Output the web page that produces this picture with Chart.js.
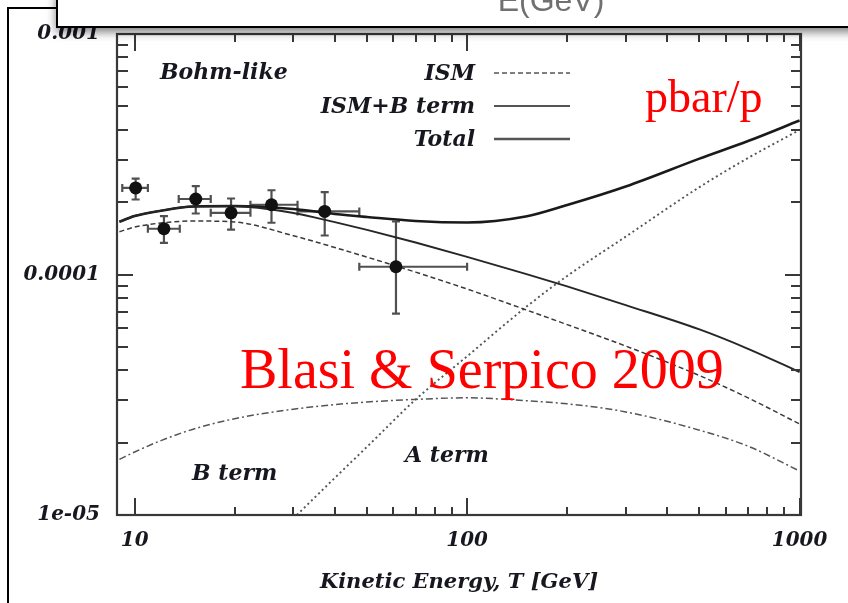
<!DOCTYPE html>
<html>
<head>
<meta charset="utf-8">
<script src="https://cdn.jsdelivr.net/npm/chart.js@4"></script>
<style>
  html, body { margin: 0; padding: 0; background: #fff; overflow: hidden; }
  canvas { display: block; }
</style>
</head>
<body>
<canvas id="c" width="848" height="603"></canvas>
<script>
// Kinetic energy grid (GeV) for the model curves
const energies = [9, 10, 12, 15, 20, 30, 40, 50, 70, 100, 150, 200, 300, 500, 700, 1000];

// pbar/p ratio of each model component on the energy grid
const totalRatio = [1.658e-4, 1.751e-4, 1.842e-4, 1.918e-4, 1.927e-4, 1.872e-4, 1.785e-4, 1.734e-4,
                    1.669e-4, 1.645e-4, 1.742e-4, 1.945e-4, 2.322e-4, 3.033e-4, 3.589e-4, 4.368e-4];
const ismBRatio = [1.658e-4, 1.751e-4, 1.842e-4, 1.918e-4, 1.922e-4, 1.802e-4, 1.65e-4, 1.532e-4,
                   1.358e-4, 1.184e-4, 1.006e-4, 8.92e-5, 7.46e-5, 5.91e-5, 4.91e-5, 3.93e-5];
const ismRatio = [1.507e-4, 1.576e-4, 1.637e-4, 1.669e-4, 1.653e-4, 1.45e-4, 1.295e-4, 1.181e-4,
                  1.023e-4, 8.7e-5, 7.14e-5, 6.19e-5, 5.04e-5, 3.8e-5, 3.07e-5, 2.39e-5];
const bTermRatio = [1.704e-5, 1.828e-5, 2.039e-5, 2.274e-5, 2.514e-5, 2.754e-5, 2.877e-5, 2.95e-5,
                    3.024e-5, 3.071e-5, 2.987e-5, 2.9e-5, 2.683e-5, 2.252e-5, 1.932e-5, 1.524e-5];
const aTermEnergies = [30, 40, 50, 70, 100, 150, 200, 300, 500, 700, 1000];
const aTermRatio = [9.67e-6, 1.426e-5, 1.921e-5, 3.02e-5, 4.57e-5, 7.3e-5, 9.86e-5, 1.437e-4,
                    2.309e-4, 3.05e-4, 3.99e-4];

// Measured pbar/p points with their energy bins and uncertainties
const pamelaE = [10.07, 12.25, 15.27, 19.5, 25.8, 37.3, 61.1];
const pamelaELow = [9.18, 10.96, 13.57, 16.94, 22.3, 30.9, 47.4];
const pamelaEHigh = [10.96, 13.67, 16.94, 22.3, 30.9, 47.4, 100];
const pamelaRatio = [2.29e-4, 1.55e-4, 2.06e-4, 1.805e-4, 1.95e-4, 1.83e-4, 1.077e-4];
const pamelaRatioLow = [2.05e-4, 1.354e-4, 1.793e-4, 1.538e-4, 1.641e-4, 1.453e-4, 6.87e-5];
const pamelaRatioHigh = [2.506e-4, 1.748e-4, 2.33e-4, 2.07e-4, 2.24e-4, 2.2e-4, 1.661e-4];

// Axis ticks and labels
const xTickValues = [10, 20, 30, 40, 50, 60, 70, 80, 90, 100, 200, 300, 400, 500, 600, 700, 800, 900, 1000];
const xMajorValues = [10, 100, 1000];
const xTickLabels = ['10', '100', '1000'];
const yTickValues = [1e-5, 2e-5, 3e-5, 4e-5, 5e-5, 6e-5, 7e-5, 8e-5, 9e-5,
                     1e-4, 2e-4, 3e-4, 4e-4, 5e-4, 6e-4, 7e-4, 8e-4, 9e-4, 1e-3];
const yMajorValues = [1e-5, 1e-4, 1e-3];
const yTickLabels = ['1e-05', '0.0001', '0.001'];

const seriesNames = ['ISM', 'ISM+B term', 'Total'];

const serifBI = '"DejaVu Serif", serif';
const inkColor = '#17171f';
const frameColor = '#383838';

const pairs = (xs, ys) => xs.map((x, i) => ({ x, y: ys[i] }));
const majorIndex = (v, majors) => majors.findIndex(m => Math.abs(Math.log10(v) - Math.log10(m)) < 1e-6);

// Error bars drawn beneath the data points
const errorBars = {
  id: 'errorBars',
  beforeDatasetsDraw(chart) {
    const { ctx, scales: { x, y } } = chart;
    ctx.save();
    ctx.strokeStyle = '#505050';
    ctx.lineWidth = 2.2;
    const cap = 4;
    pamelaE.forEach((e, i) => {
      const px = x.getPixelForValue(e);
      const py = y.getPixelForValue(pamelaRatio[i]);
      const x0 = x.getPixelForValue(pamelaELow[i]);
      const x1 = x.getPixelForValue(pamelaEHigh[i]);
      const y0 = y.getPixelForValue(pamelaRatioLow[i]);
      const y1 = y.getPixelForValue(pamelaRatioHigh[i]);
      ctx.beginPath();
      ctx.moveTo(x0, py); ctx.lineTo(x1, py);
      ctx.moveTo(x0, py - cap); ctx.lineTo(x0, py + cap);
      ctx.moveTo(x1, py - cap); ctx.lineTo(x1, py + cap);
      ctx.moveTo(px, y0); ctx.lineTo(px, y1);
      ctx.moveTo(px - cap, y0); ctx.lineTo(px + cap, y0);
      ctx.moveTo(px - cap, y1); ctx.lineTo(px + cap, y1);
      ctx.stroke();
    });
    ctx.restore();
  }
};

// Boxed frame with inward ticks on all four sides, labels and legend
const frameAndNotes = {
  id: 'frameAndNotes',
  afterDraw(chart) {
    const { ctx, chartArea: a, scales: { x, y } } = chart;
    ctx.save();
    ctx.strokeStyle = frameColor;
    ctx.lineWidth = 2.2;
    ctx.strokeRect(a.left, a.top, a.right - a.left, a.bottom - a.top);
    ctx.lineWidth = 2;
    ctx.beginPath();
    x.ticks.forEach(t => {
      const px = Math.round(x.getPixelForValue(t.value));
      const len = majorIndex(t.value, xMajorValues) >= 0 ? 17 : 8;
      ctx.moveTo(px, a.bottom); ctx.lineTo(px, a.bottom - len);
      ctx.moveTo(px, a.top); ctx.lineTo(px, a.top + len);
    });
    y.ticks.forEach(t => {
      const py = Math.round(y.getPixelForValue(t.value));
      const major = majorIndex(t.value, yMajorValues) >= 0;
      ctx.moveTo(a.left, py); ctx.lineTo(a.left + (major ? 16 : 11), py);
      ctx.moveTo(a.right, py); ctx.lineTo(a.right - (major ? 16 : 10), py);
    });
    ctx.stroke();

    // text annotations inside the plot
    ctx.fillStyle = inkColor;
    ctx.font = 'italic bold 22px ' + serifBI;
    ctx.textBaseline = 'alphabetic';
    ctx.textAlign = 'left';
    ctx.fillText('Bohm-like', 160, 79);
    ctx.fillText('B term', 192, 480);
    ctx.fillText('A term', 405, 462);

    // legend: right-aligned names with line samples
    const ds = chart.data.datasets;
    const legendRows = [
      { name: seriesNames[0], ds: ds[1], baseline: 80, lineY: 73 },
      { name: seriesNames[1], ds: ds[2], baseline: 113, lineY: 106 },
      { name: seriesNames[2], ds: ds[3], baseline: 146, lineY: 139 }
    ];
    ctx.textAlign = 'right';
    legendRows.forEach(r => {
      ctx.fillStyle = inkColor;
      ctx.fillText(r.name, 475, r.baseline);
      ctx.save();
      ctx.strokeStyle = '#555';
      ctx.lineWidth = r.ds.borderWidth;
      ctx.setLineDash(r.ds.borderDash || []);
      ctx.beginPath();
      ctx.moveTo(494, r.lineY); ctx.lineTo(570, r.lineY);
      ctx.stroke();
      ctx.restore();
    });

    // red captions
    ctx.fillStyle = '#ff0000';
    ctx.textAlign = 'left';
    ctx.font = '46px "Liberation Serif", serif';
    ctx.fillText('pbar/p', 645, 112);
    ctx.font = '56px "Liberation Serif", serif';
    ctx.fillText('Blasi & Serpico 2009', 240, 388);

    // outer page frame on the left
    ctx.strokeStyle = '#000';
    ctx.lineWidth = 2;
    ctx.beginPath();
    ctx.moveTo(8, 603); ctx.lineTo(8, 8); ctx.lineTo(57, 8);
    ctx.stroke();

    // overlapping caption box along the top
    ctx.save();
    ctx.shadowColor = 'rgba(0,0,0,0.5)';
    ctx.shadowBlur = 9;
    ctx.shadowOffsetY = 5;
    ctx.fillStyle = '#fff';
    ctx.fillRect(56, -12, 820, 39);
    ctx.restore();
    ctx.strokeStyle = '#000';
    ctx.lineWidth = 2;
    ctx.strokeRect(57, -12, 820, 39);
    ctx.fillStyle = '#707070';
    ctx.font = '32px "Liberation Sans", sans-serif';
    ctx.textAlign = 'center';
    ctx.fillText('E(GeV)', 551, 11);
    ctx.restore();
  }
};

const tickFont = { family: serifBI, size: 20, weight: 'bold', style: 'italic' };

new Chart(document.getElementById('c'), {
  type: 'scatter',
  data: {
    datasets: [
      {
        label: 'PAMELA',
        data: pairs(pamelaE, pamelaRatio),
        showLine: false,
        pointRadius: 6.5,
        pointBackgroundColor: '#111',
        pointBorderColor: '#111',
        pointBorderWidth: 0
      },
      {
        label: seriesNames[0],
        data: pairs(energies, ismRatio),
        showLine: true, pointRadius: 0,
        borderColor: '#3a3a3a', borderWidth: 1.5, borderDash: [5, 3],
        cubicInterpolationMode: 'monotone'
      },
      {
        label: seriesNames[1],
        data: pairs(energies, ismBRatio),
        showLine: true, pointRadius: 0,
        borderColor: '#262626', borderWidth: 1.9,
        cubicInterpolationMode: 'monotone'
      },
      {
        label: seriesNames[2],
        data: pairs(energies, totalRatio),
        showLine: true, pointRadius: 0,
        borderColor: '#1a1a1a', borderWidth: 2.6,
        cubicInterpolationMode: 'monotone'
      },
      {
        label: 'B term',
        data: pairs(energies, bTermRatio),
        showLine: true, pointRadius: 0,
        borderColor: '#555', borderWidth: 1.5, borderDash: [7, 3, 2, 3],
        cubicInterpolationMode: 'monotone'
      },
      {
        label: 'A term',
        data: pairs(aTermEnergies, aTermRatio),
        showLine: true, pointRadius: 0,
        borderColor: '#555', borderWidth: 1.9, borderDash: [2, 3],
        cubicInterpolationMode: 'monotone'
      }
    ]
  },
  options: {
    responsive: false,
    devicePixelRatio: 1,
    animation: false,
    layout: { padding: { left: 0, right: 47, top: 34, bottom: 0 } },
    plugins: { legend: { display: false }, tooltip: { enabled: false } },
    scales: {
      x: {
        type: 'logarithmic',
        min: 8.85,
        max: 1010,
        afterBuildTicks(scale) { scale.ticks = xTickValues.map(v => ({ value: v })); },
        afterFit(scale) { scale.height = 88; },
        grid: { display: false, drawTicks: false },
        border: { display: false },
        ticks: {
          autoSkip: false, maxRotation: 0, minRotation: 0, padding: 14,
          color: inkColor, font: tickFont,
          callback(value) {
            const i = majorIndex(value, xMajorValues);
            return i >= 0 ? xTickLabels[i] : '';
          }
        },
        title: {
          display: true,
          text: 'Kinetic Energy, T [GeV]',
          color: inkColor,
          font: { family: serifBI, size: 21, weight: 'bold', style: 'italic' },
          padding: { top: 0, bottom: 8 }
        }
      },
      y: {
        type: 'logarithmic',
        min: 1e-5,
        max: 1e-3,
        afterBuildTicks(scale) { scale.ticks = yTickValues.map(v => ({ value: v })); },
        afterFit(scale) { scale.width = 117; },
        grid: { display: false, drawTicks: false },
        border: { display: false },
        ticks: {
          autoSkip: false, padding: 17,
          color: inkColor, font: tickFont,
          callback(value) {
            const i = majorIndex(value, yMajorValues);
            return i >= 0 ? yTickLabels[i] : '';
          }
        }
      }
    }
  },
  plugins: [errorBars, frameAndNotes]
});
</script>
</body>
</html>
